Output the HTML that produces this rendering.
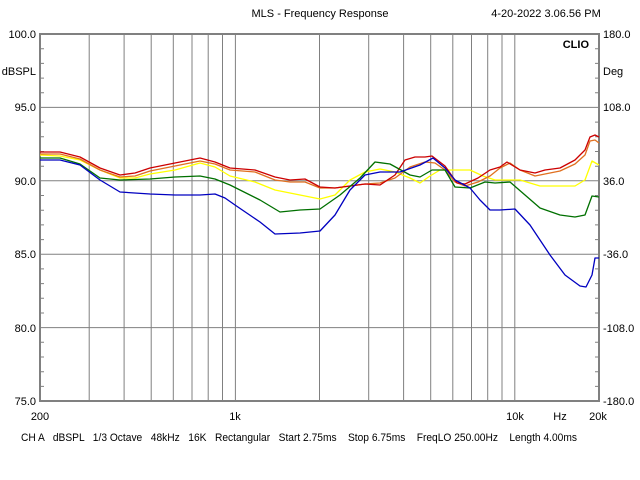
<!DOCTYPE html>
<html><head><style>
body{margin:0;background:#fff;}
svg{display:block;font-family:"Liberation Sans",sans-serif;font-size:11px;}
</style></head><body>
<svg width="640" height="480" viewBox="0 0 640 480">
<rect width="640" height="480" fill="#fff"/>
<g stroke="#808080" stroke-width="1">
<line x1="40" y1="107.4" x2="599" y2="107.4"/><line x1="40" y1="180.8" x2="599" y2="180.8"/>
<line x1="40" y1="254.2" x2="599" y2="254.2"/><line x1="40" y1="327.6" x2="599" y2="327.6"/>
<line x1="89.2" y1="34" x2="89.2" y2="401"/><line x1="124.1" y1="34" x2="124.1" y2="401"/>
<line x1="151.2" y1="34" x2="151.2" y2="401"/><line x1="173.3" y1="34" x2="173.3" y2="401"/>
<line x1="192" y1="34" x2="192" y2="401"/><line x1="208.2" y1="34" x2="208.2" y2="401"/>
<line x1="222.5" y1="34" x2="222.5" y2="401"/><line x1="235.4" y1="34" x2="235.4" y2="401"/>
<line x1="319.5" y1="34" x2="319.5" y2="401"/><line x1="368.7" y1="34" x2="368.7" y2="401"/>
<line x1="403.6" y1="34" x2="403.6" y2="401"/><line x1="430.7" y1="34" x2="430.7" y2="401"/>
<line x1="452.8" y1="34" x2="452.8" y2="401"/><line x1="471.5" y1="34" x2="471.5" y2="401"/>
<line x1="487.7" y1="34" x2="487.7" y2="401"/><line x1="502" y1="34" x2="502" y2="401"/>
<line x1="514.8" y1="34" x2="514.8" y2="401"/>
</g>
<g stroke="#808080" stroke-width="1">
<path d="M40 48.7h4M40 63.4h4M40 78.1h4M40 92.8h4M40 122.1h4M40 136.8h4M40 151.5h4M40 166.2h4M40 195.5h4M40 210.2h4M40 224.9h4M40 239.6h4M40 268.9h4M40 283.6h4M40 298.3h4M40 313h4M40 342.3h4M40 357h4M40 371.7h4M40 386.4h4"/>
<path d="M599 48.7h-4M599 63.4h-4M599 78.1h-4M599 92.8h-4M599 122.1h-4M599 136.8h-4M599 151.5h-4M599 166.2h-4M599 195.5h-4M599 210.2h-4M599 224.9h-4M599 239.6h-4M599 268.9h-4M599 283.6h-4M599 298.3h-4M599 313h-4M599 342.3h-4M599 357h-4M599 371.7h-4M599 386.4h-4"/>
</g>
<rect x="40" y="34" width="559" height="367" fill="none" stroke="#808080" stroke-width="2"/>
<g fill="none" stroke-width="1.3" stroke-linejoin="round">
<polyline stroke="#ffff00" points="40,155 60,156 80,160 100,170 120,178 135,178 150,174 175,170 200,163 215,167 230,176 255,182 275,190 290,193 305,196 320,199 335,195 350,180 365,172 380,169 395,172 410,178 420,183 430,176 440,170 455,170 470,170 483,176 495,180 520,180 540,186 575,186 585,180 592,161 599,165"/>
<polyline stroke="#e07020" points="40,154 60,154 80,159 100,170 120,177 135,176 150,171 175,166 200,161 215,164 230,170 255,172 275,180 290,182 305,182 320,188 335,188 350,186 365,184 380,183 395,178 410,167 425,162 435,163 445,170 455,182 465,186 478,182 490,176 500,168 510,163 520,170 535,176 545,174 560,171 575,164 585,155 590,141 595,140 599,143"/>
<polyline stroke="#cc0000" points="40,152 60,152 80,157 100,168 120,175 135,173 150,168 175,163 200,158 215,162 230,168 255,170 275,177 290,180 305,179 320,187 335,188 350,186 365,184 380,185 395,175 405,160 415,157 425,157 432,156 445,166 457,183 465,184 478,178 490,170 500,167 507,162 520,170 535,173 545,170 560,168 575,160 585,150 590,137 595,135 599,137"/>
<polyline stroke="#007000" points="40,158 60,158 80,164 100,178 120,180 150,179 175,177 200,176 215,179 230,185 260,200 280,212 300,210 320,209 340,195 360,178 375,162 390,164 410,175 420,177 432,170 445,170 455,187 470,188 485,182 495,183 510,182 525,195 540,208 560,215 575,217 585,215 592,196 599,197"/>
<polyline stroke="#0000c0" points="40,160 60,160 80,165 100,180 120,192 150,194 175,195 200,195 215,194 225,198 235,205 260,222 275,234 300,233 320,231 335,215 350,190 365,175 380,172 400,172 420,165 433,158 445,168 455,180 470,188 480,200 490,210 500,210 515,209 530,225 550,255 565,275 580,286 586,287 592,275 595,258 599,258"/>
</g>
<g fill="#000">
<text x="320" y="17" text-anchor="middle">MLS - Frequency Response</text>
<text x="546" y="17" text-anchor="middle">4-20-2022 3.06.56 PM</text>
<text x="589" y="48" text-anchor="end" font-weight="bold">CLIO</text>
<text x="36" y="38" text-anchor="end">100.0</text>
<text x="36" y="75" text-anchor="end">dBSPL</text>
<text x="36" y="111" text-anchor="end">95.0</text>
<text x="36" y="185" text-anchor="end">90.0</text>
<text x="36" y="258" text-anchor="end">85.0</text>
<text x="36" y="332" text-anchor="end">80.0</text>
<text x="36" y="405" text-anchor="end">75.0</text>
<text x="603" y="38">180.0</text>
<text x="603" y="75">Deg</text>
<text x="603" y="111">108.0</text>
<text x="603" y="185">36.0</text>
<text x="603" y="258">-36.0</text>
<text x="603" y="332">-108.0</text>
<text x="603" y="405">-180.0</text>
<text x="40" y="420" text-anchor="middle">200</text>
<text x="235" y="420" text-anchor="middle">1k</text>
<text x="515" y="420" text-anchor="middle">10k</text>
<text x="560" y="420" text-anchor="middle">Hz</text>
<text x="598" y="420" text-anchor="middle">20k</text>
<text x="21" y="441" textLength="556" lengthAdjust="spacingAndGlyphs" xml:space="preserve">CH A   dBSPL   1/3 Octave   48kHz   16K   Rectangular   Start 2.75ms    Stop 6.75ms    FreqLO 250.00Hz    Length 4.00ms</text>
</g>
</svg>
</body></html>
